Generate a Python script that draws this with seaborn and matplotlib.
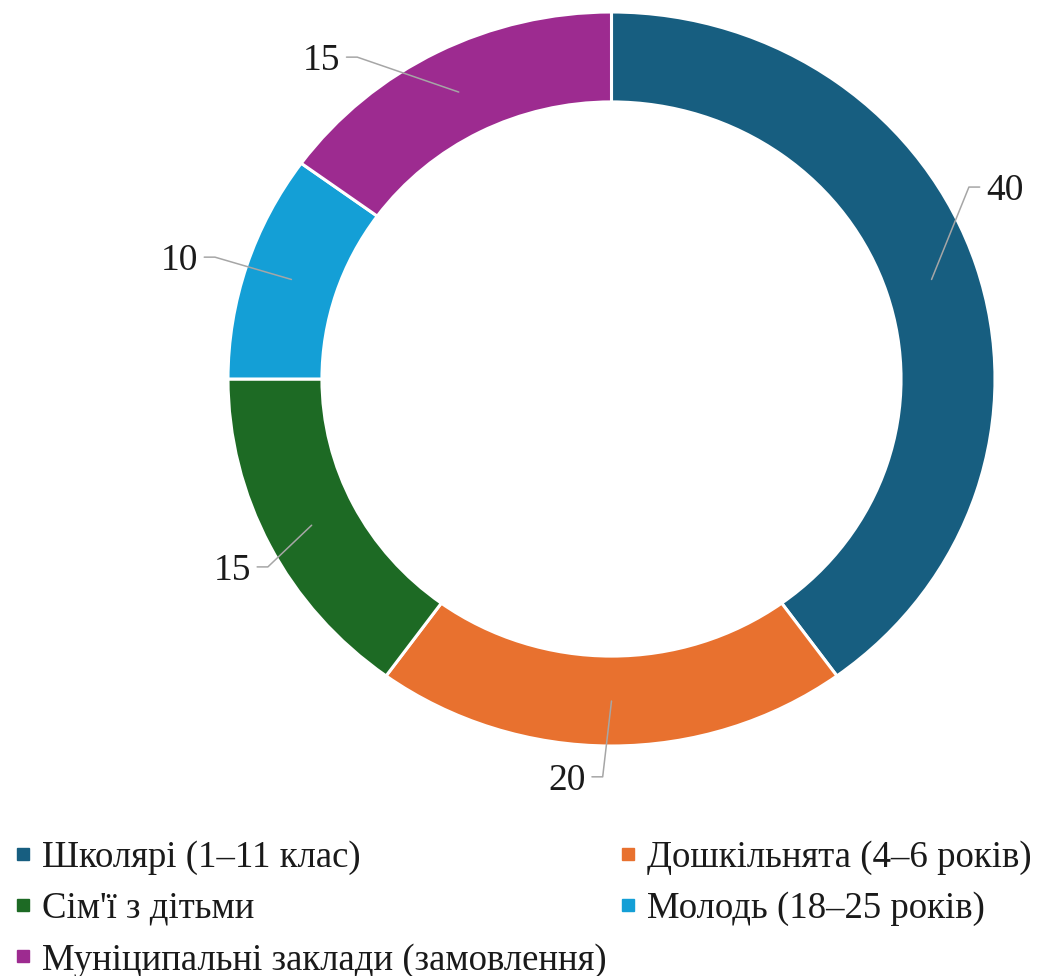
import numpy as np
import matplotlib.pyplot as plt
from matplotlib.lines import Line2D
import seaborn as sns

# Data
categories = ['Школярі (1–11 клас)', 'Дошкільнята (4–6 років)', "Сім'ї з дітьми",
              'Молодь (18–25 років)', 'Муніципальні заклади (замовлення)']
values = [40, 20, 15, 10, 15]
colors = ['#175e80', '#e8712f', '#1d6a24', '#149fd6', '#9d2b90']

# label elbows (axes units, radius = 1) and which side the text sits on
elbows = [(0.932, 0.523), (-0.023, -1.084), (-0.896, -0.512), (-1.034, 0.332), (-0.663, 0.877)]
sides = [1, -1, -1, -1, -1]

sns.set_style('white')
plt.rcParams['font.family'] = ['Liberation Serif', 'DejaVu Serif']

fig = plt.figure(figsize=(10.43, 9.76), dpi=100)
ax = fig.add_axes([228 / 1043, 230 / 976, 767 / 1043, 734 / 976])

ring = 0.245
wedges, _ = ax.pie(values, colors=colors, startangle=90, counterclock=False, radius=1,
                   wedgeprops=dict(width=ring, edgecolor='white', linewidth=2.2))
ax.set_aspect('auto')
ax.set_xlim(-1, 1)
ax.set_ylim(-1, 1)
ax.axis('off')

# leader lines + value labels
rmid = 1 - ring / 2
for w, v, (ex, ey), s in zip(wedges, values, elbows, sides):
    ang = np.deg2rad((w.theta1 + w.theta2) / 2)
    sx, sy = rmid * np.cos(ang), rmid * np.sin(ang)
    hx = ex + s * 0.028
    ax.plot([sx, ex, hx], [sy, ey, ey], color='#a6a6a6', lw=1.1, clip_on=False)
    ax.text(hx + s * 0.016, ey, str(v), ha='left' if s > 0 else 'right', va='center_baseline',
            fontsize=27, color='#1a1a1a')

# legend, filled row by row
order = [0, 2, 4, 1, 3]
handles = [Line2D([], [], marker='s', linestyle='', color=colors[i], markersize=8.5) for i in order]
fig.legend(handles, [categories[i] for i in order], ncol=2, loc='upper left',
           bbox_to_anchor=(0.005, 0.147), frameon=False, fontsize=26.5,
           handlelength=0.55, handletextpad=0.25, columnspacing=0.3,
           labelspacing=0.46, borderaxespad=0, borderpad=0.2, labelcolor='#1a1a1a')

plt.savefig('out.png', dpi=100)
